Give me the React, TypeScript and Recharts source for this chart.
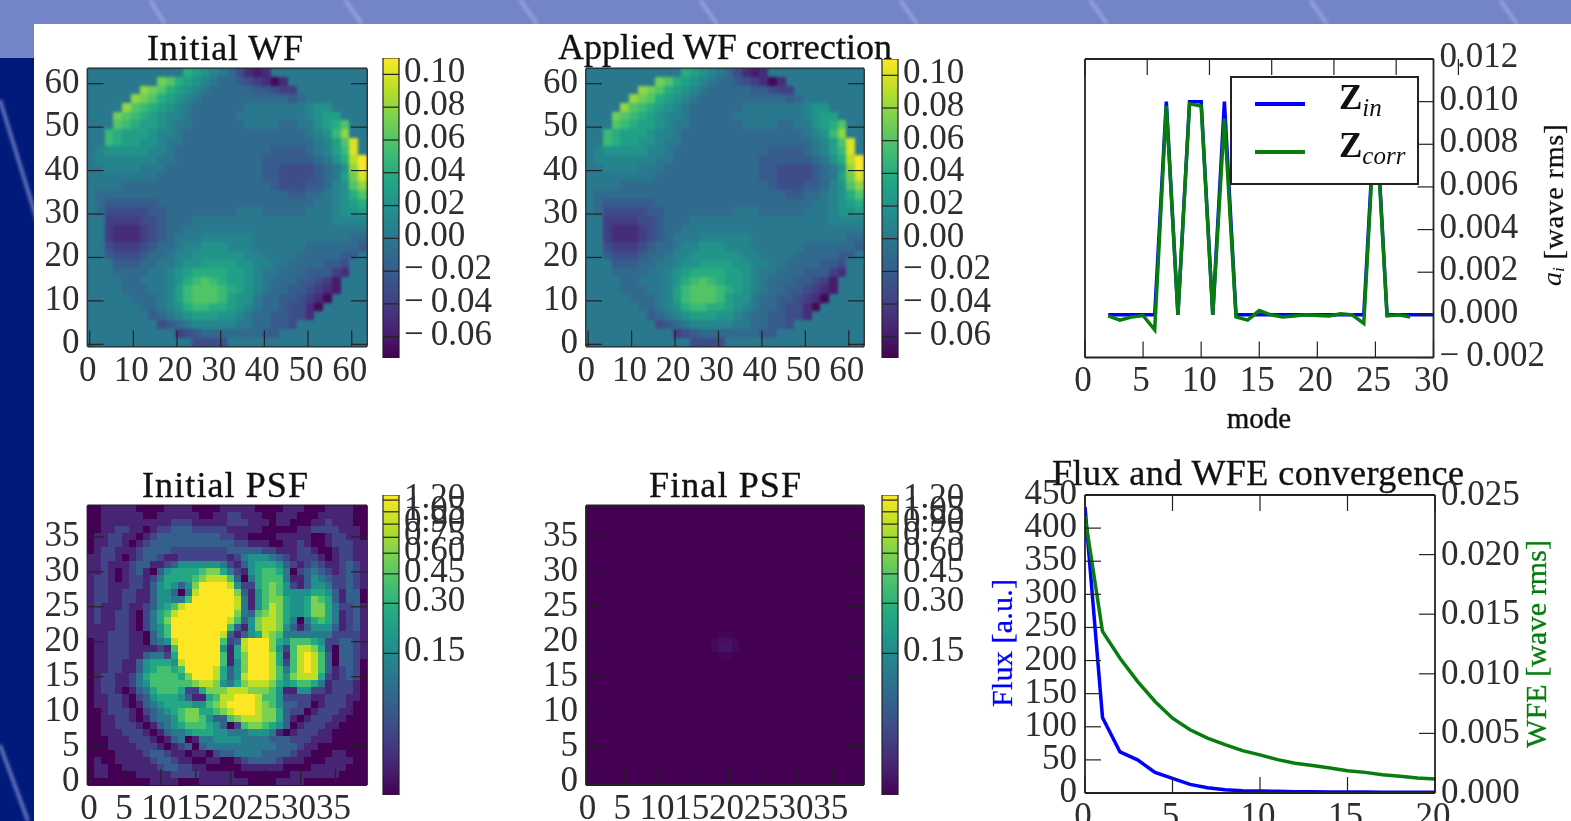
import {
  Bar,
  ComposedChart,
  Legend,
  Line,
  LineChart,
  ReferenceArea,
  Scatter,
  ScatterChart,
  XAxis,
  YAxis,
} from "recharts";

const W = 1571;
const H = 821;
const FONT = "'Liberation Serif', serif";
const INK = "#222";

// viridis stops, low to high
const viridis = ["#440154", "#482475", "#414487", "#355f8d", "#2a788e", "#21918c", "#22a884", "#44bf70", "#7ad151", "#bddf26", "#fde725"];

// wavefront, 0.01 wave steps, read on a 2 pixel grid, top row first
const wfRows = [
  [0,0,0,0,0,0,0,0,0,0,0,4,3,2,1,0,-1,-3,-5,-6,-5,0,0,0,0,0,0,0,0,0,0,0],
  [0,0,0,0,0,0,0,0,7,6,4,3,2,1,0,-1,-1,-2,-3,-4,-5,-7,-5,0,0,0,0,0,0,0,0,0],
  [0,0,0,0,0,0,8,7,6,4,3,2,1,0,-1,-1,-1,-1,-1,-2,-2,-3,-4,-4,0,0,0,0,0,0,0,0],
  [0,0,0,0,0,8,7,6,4,3,2,1,0,-1,-1,-1,-1,-1,-1,-1,-1,-1,-1,-2,-1,0,0,0,0,0,0,0],
  [0,0,0,0,8,6,5,4,3,2,1,0,-1,-1,-1,-1,-1,-1,0,0,0,0,0,0,0,1,2,2,0,0,0,0],
  [0,0,0,7,6,5,4,3,2,1,1,0,-1,-1,-1,-1,-1,0,0,0,0,0,0,0,0,1,2,3,3,0,0,0],
  [0,0,0,6,5,4,3,3,2,1,0,0,-1,-1,-1,-1,-1,-1,0,0,0,0,-1,-1,0,0,2,3,4,6,0,0],
  [0,0,5,4,3,3,3,2,1,1,0,-1,-1,-1,-1,-1,-1,-1,-1,-1,-1,-1,-1,-1,-1,0,1,2,5,8,0,0],
  [0,0,5,4,3,3,2,2,1,0,0,-1,-1,-1,-1,-1,-1,-1,-1,-1,-1,-1,-1,-1,-1,-1,0,1,3,6,10,0],
  [0,1,2,2,2,2,2,1,1,0,-1,-1,-1,-1,-1,-1,-1,-1,-1,-1,-1,-2,-2,-2,-2,-1,0,1,3,5,10,0],
  [0,1,1,1,1,1,1,1,0,0,-1,-1,-1,-1,-1,-1,-1,-1,-1,-1,-2,-2,-2,-2,-2,-2,-1,0,2,4,9,11],
  [0,0,1,1,1,1,0,0,0,-1,-1,-1,-1,-1,-1,-1,-1,-1,-1,-1,-2,-2,-3,-3,-3,-3,-2,-1,0,2,8,11],
  [0,0,0,0,0,0,0,0,-1,-1,-1,-1,-1,-1,-1,-1,-1,-1,-1,-1,-2,-2,-3,-3,-3,-3,-2,-1,0,3,7,10],
  [0,0,0,0,-1,-1,-1,-1,-1,-1,-1,-1,-1,-1,-1,-1,-1,-1,-1,-1,-1,-2,-3,-3,-3,-2,-2,-1,1,2,6,8],
  [0,-1,-1,-1,-1,-1,-1,-1,-1,-1,-1,-1,-1,-1,-1,-1,-1,-1,-1,-1,-1,-1,-1,-2,-2,-1,-1,0,1,2,4,6],
  [0,-1,-2,-2,-2,-2,-2,-2,-1,-1,-1,-1,-1,-1,-1,-1,-1,-1,-1,-1,-1,-1,-1,-1,-1,-1,0,0,1,2,3,4],
  [0,-1,-3,-3,-3,-3,-3,-2,-2,-1,-1,-1,-1,-1,-1,-1,-1,0,0,0,-1,-1,-1,-1,-1,0,0,0,1,2,2,3],
  [0,0,-4,-4,-4,-4,-3,-3,-2,-1,-1,-1,0,0,0,0,0,0,0,0,0,0,0,0,0,0,0,0,1,1,1,1],
  [0,0,-4,-5,-5,-5,-4,-3,-2,-1,-1,0,0,0,0,0,0,0,0,0,0,0,0,0,0,0,0,0,0,0,0,0],
  [0,0,-4,-5,-5,-5,-4,-3,-2,-1,0,0,0,1,1,1,1,1,1,0,0,0,0,0,0,0,0,0,0,0,-1,-1],
  [0,0,-3,-4,-4,-4,-3,-2,-1,-1,0,1,1,2,2,2,1,1,1,0,0,0,0,0,0,-1,-1,-1,-1,-1,-1,-2],
  [0,0,-2,-3,-3,-3,-2,-1,-1,0,1,1,2,2,2,2,2,2,1,1,0,0,0,0,-1,-1,-1,-1,-1,-2,-2,0],
  [0,0,0,-2,-2,-2,-1,-1,0,0,1,2,2,3,3,3,3,2,2,1,1,0,0,-1,-1,-1,-1,-2,-2,-3,0,0],
  [0,0,0,-1,-1,-1,-1,0,0,1,2,3,4,4,4,4,3,3,2,1,0,0,-1,-1,-1,-2,-2,-2,-4,-5,0,0],
  [0,0,0,0,-1,-1,0,0,0,1,2,4,5,6,5,4,3,3,2,1,0,-1,-1,-1,-2,-2,-3,-4,-6,0,0,0],
  [0,0,0,0,-1,-1,-1,0,0,1,3,5,6,6,6,5,4,3,2,1,0,-1,-1,-2,-2,-3,-4,-5,-6,0,0,0],
  [0,0,0,0,0,-1,-1,-1,0,1,3,5,6,6,6,5,3,2,2,0,-1,-1,-2,-2,-3,-4,-5,-7,0,0,0,0],
  [0,0,0,0,0,0,-1,-1,0,1,2,4,5,5,4,4,3,2,1,0,-1,-1,-2,-3,-3,-5,-7,0,0,0,0,0],
  [0,0,0,0,0,0,0,-2,-1,0,1,2,3,3,3,2,2,1,0,-1,-1,-2,-2,-3,-3,-5,0,0,0,0,0,0],
  [0,0,0,0,0,0,0,0,-3,-2,-1,0,1,1,1,1,1,0,0,-1,-1,-2,-2,-3,0,0,0,0,0,0,0,0],
  [0,0,0,0,0,0,0,0,0,0,-4,-3,-2,-1,-1,-1,-1,-1,-1,-1,-2,-2,0,0,0,0,0,0,0,0,0,0],
  [0,0,0,0,0,0,0,0,0,0,0,0,-3,-3,-3,-3,0,0,0,0,0,0,0,0,0,0,0,0,0,0,0,0],
];

// initial PSF, colour bar level 0-10 per pixel, top row first
const psfRows = [
  [0,0,1,1,1,1,1,0,0,0,0,1,1,1,1,0,0,0,0,1,1,1,1,1,0,0,0,0,1,1,1,0,0,0,1,1,1,1,0,0],
  [0,0,1,1,1,1,1,1,0,0,1,1,1,1,1,1,0,0,1,1,2,2,1,1,1,0,0,1,1,1,0,0,0,1,1,1,1,1,0,0],
  [0,0,1,1,1,1,1,1,1,1,1,1,2,2,2,1,1,1,1,1,2,2,2,1,1,1,0,1,1,0,0,0,1,1,2,1,1,1,0,0],
  [0,0,1,1,2,2,1,1,0,1,2,2,3,3,3,2,2,2,2,2,1,1,1,1,1,0,0,0,0,0,1,1,2,2,2,2,1,1,1,0],
  [0,1,1,2,2,1,1,0,1,2,3,3,3,3,3,3,3,3,3,2,2,1,1,0,0,0,0,1,1,1,1,1,0,0,1,2,2,1,1,0],
  [0,1,1,2,2,1,0,1,2,3,3,3,3,3,3,3,3,3,3,3,3,2,2,1,1,1,0,0,1,1,2,1,0,0,1,2,2,2,1,1],
  [0,1,2,2,1,1,1,2,3,3,3,3,2,2,2,2,2,2,2,2,3,3,3,3,3,2,2,1,1,1,2,2,1,0,0,1,2,2,1,1],
  [1,1,2,2,1,0,1,2,3,3,2,1,1,2,2,2,2,2,2,2,1,2,4,5,5,5,4,3,2,1,2,2,2,1,0,1,2,2,1,1],
  [1,1,2,1,1,1,2,3,3,1,1,2,3,5,5,5,5,5,5,4,2,1,3,5,6,6,6,5,3,2,1,2,3,2,1,1,2,3,2,1],
  [1,1,2,1,0,1,2,3,1,0,3,5,6,6,6,6,7,8,8,6,4,2,1,5,6,7,7,6,4,0,2,3,4,3,2,1,2,3,2,1],
  [1,2,2,1,0,1,2,2,1,2,4,6,6,6,6,7,8,9,9,9,7,3,0,4,6,7,7,7,4,1,1,3,5,4,3,2,2,3,2,1],
  [1,2,2,1,1,1,2,2,1,3,5,6,5,3,5,8,10,10,10,10,9,5,2,2,6,7,8,7,5,2,1,3,5,5,4,2,2,3,2,1],
  [1,2,2,1,1,2,2,1,1,3,5,5,3,0,4,9,10,10,10,10,10,8,3,1,5,7,8,7,5,5,5,5,6,6,5,3,1,3,3,0],
  [1,2,2,1,1,2,2,1,1,3,5,5,4,4,7,10,10,10,10,10,10,9,4,1,5,7,8,8,6,5,5,6,8,7,6,3,1,3,3,0],
  [1,2,1,1,1,2,1,1,2,3,5,6,7,9,10,10,10,10,10,10,10,9,4,1,5,7,9,8,6,5,5,6,8,8,6,4,2,2,3,1],
  [1,2,1,1,2,2,1,0,2,4,6,7,9,10,10,10,10,10,10,10,10,8,4,3,7,8,9,8,6,5,5,6,8,8,6,4,1,2,3,1],
  [1,2,1,1,2,2,1,0,2,4,6,8,10,10,10,10,10,10,10,10,9,7,3,5,8,9,9,8,6,4,0,4,6,7,6,4,1,2,3,1],
  [1,1,1,1,2,2,1,0,2,4,5,7,10,10,10,10,10,10,10,10,7,3,1,5,8,9,9,8,5,3,1,3,5,5,5,3,1,2,3,1],
  [1,1,1,2,2,2,1,1,0,3,5,7,10,10,10,10,10,10,10,9,3,1,3,5,6,9,8,7,4,4,4,4,4,4,4,2,2,2,2,1],
  [0,1,1,2,2,2,1,1,0,3,4,5,9,10,10,10,10,10,10,7,2,3,9,10,10,10,8,6,5,7,7,7,6,5,2,2,3,3,2,1],
  [0,1,1,2,2,2,1,1,1,1,2,1,7,10,10,10,10,10,10,5,1,6,9,10,10,10,8,5,2,7,9,9,8,6,2,0,3,3,2,1],
  [0,1,1,2,2,2,1,1,3,4,4,2,6,10,10,10,10,10,10,7,1,6,8,10,10,10,9,6,1,7,9,10,9,7,3,0,3,3,2,1],
  [0,1,1,2,2,1,1,3,5,6,6,6,5,9,10,10,10,10,10,7,1,5,8,10,10,10,9,6,2,7,9,10,9,7,3,0,3,3,2,0],
  [0,1,1,2,2,1,1,3,5,6,7,7,6,7,10,10,10,10,9,6,3,5,8,10,10,10,9,7,4,7,9,10,9,7,3,1,2,3,2,0],
  [0,1,2,2,1,1,2,4,6,7,7,7,7,6,8,10,10,10,9,6,3,5,9,10,10,10,9,7,5,8,9,9,9,6,2,1,2,3,2,0],
  [0,1,2,2,1,1,2,4,5,7,7,7,7,7,7,8,9,9,8,5,4,6,8,9,9,9,8,6,5,6,7,7,6,4,1,2,2,2,1,0],
  [0,1,2,2,1,0,1,3,4,6,7,7,7,6,2,2,6,8,8,8,9,9,9,8,8,8,7,5,1,1,5,5,2,2,1,2,2,2,1,0],
  [0,1,1,2,2,1,0,2,3,5,6,6,6,5,3,1,1,6,7,9,9,10,10,10,9,7,7,5,2,2,2,2,1,1,2,2,2,1,1,0],
  [0,1,1,2,2,1,0,1,3,4,5,6,6,6,6,5,5,7,8,9,10,10,10,10,9,8,7,5,3,3,2,2,0,1,2,2,2,1,0,0],
  [0,0,1,2,2,2,1,0,2,3,4,5,6,7,8,8,6,6,7,8,9,10,10,10,9,8,8,6,3,2,2,0,1,2,2,2,1,1,0,0],
  [0,0,1,1,2,2,1,0,1,3,4,4,5,7,8,8,7,5,3,3,7,8,9,9,9,8,8,6,3,1,0,1,2,2,2,1,1,0,0,0],
  [0,0,1,1,2,2,2,1,0,1,3,4,5,6,7,7,7,6,5,3,0,2,7,8,8,7,6,5,3,0,1,2,2,2,1,1,0,0,0,0],
  [0,0,1,1,1,2,2,2,1,0,1,3,4,4,5,6,6,6,5,5,4,4,4,5,5,5,4,1,0,1,2,2,2,1,1,0,0,0,0,0],
  [0,0,0,1,1,1,2,2,2,1,0,1,3,4,0,1,4,4,5,5,5,5,4,4,4,4,3,3,3,2,2,2,1,1,1,0,0,0,0,0],
  [0,0,0,1,1,1,1,2,2,2,1,0,1,2,3,0,3,4,4,4,4,4,4,4,4,4,4,3,3,3,2,1,1,0,0,0,0,0,0,0],
  [0,0,0,0,1,1,1,1,2,3,3,2,1,1,0,1,1,0,2,3,3,4,4,4,4,3,3,3,3,2,1,1,0,0,0,1,1,0,0,0],
  [0,1,0,0,1,1,1,1,1,2,3,3,2,1,1,0,0,1,1,0,0,1,2,3,3,3,3,2,1,1,1,0,0,0,1,1,1,1,0,0],
  [0,1,1,0,0,1,1,1,1,1,2,3,3,2,2,1,1,0,0,0,0,0,1,1,1,1,1,1,0,0,0,0,1,1,1,1,1,0,0,0],
  [0,1,1,0,0,0,0,1,1,1,1,1,2,2,2,2,1,1,1,1,1,0,0,0,0,0,0,0,0,1,1,1,1,1,1,1,0,0,0,0],
  [0,0,0,0,0,0,0,0,0,1,1,1,1,0,0,0,1,1,1,1,1,1,1,0,0,0,0,1,1,1,1,0,0,0,0,0,0,0,0,0],
];

// final PSF is flat except a faint spot
const spotX = [18, 19, 20, 21, 18, 19, 20, 21, 19, 20, 19, 20];
const spotY = [20, 20, 20, 20, 19, 19, 19, 19, 21, 21, 18, 18];
const spotLevel = [0.2, 0.4, 0.4, 0.2, 0.2, 0.5, 0.5, 0.2, 0.15, 0.15, 0.15, 0.15];

const wfTicks = [0, 10, 20, 30, 40, 50, 60];
const psfTicks = [0, 5, 10, 15, 20, 25, 30, 35];
const wfBarTicks = [0.1, 0.08, 0.06, 0.04, 0.02, 0, -0.02, -0.04, -0.06];
const psfBarPos = [0.983, 0.944, 0.903, 0.859, 0.806, 0.737, 0.639, 0.472];
const psfBarLabels = ["1.20", "1.05", "0.90", "0.75", "0.60", "0.45", "0.30", "0.15"];

// zernike modes
const modes = [2, 3, 4, 5, 6, 7, 8, 9, 10, 11, 12, 13, 14, 15, 16, 17, 18, 19, 20, 21, 22, 23, 24, 25, 26, 27, 28, 29, 30];
const zIn = [0, 0, 0, 0, 0, 0.01, 0, 0.01, 0.01, 0, 0.01, 0, 0, 0, 0, 0, 0, 0, 0, 0, 0, 0, 0, 0.01, 0, 0, 0, 0, 0];
const zCorr = [-0.00005, -0.00025, -0.0001, -0.00003, -0.0007, 0.0098, 0, 0.0099, 0.0098, 0, 0.0092, -0.0001, -0.00025, 0.0002, 0, -0.0001, -0.00005, 0, -0.00003, -0.00005, 0.00005, 0, -0.0004, 0.0097, -0.00005, 0, -0.0001, null, null];
const modeAxisTicks = [0, 5, 10, 15, 20, 25, 30];
const coefTicks = [-0.002, 0, 0.002, 0.004, 0.006, 0.008, 0.01, 0.012];

// convergence
const iterations = [0, 1, 2, 3, 4, 5, 6, 7, 8, 9, 10, 11, 12, 13, 14, 15, 16, 17, 18, 19, 20];
const flux = [432, 114, 62, 50, 31, 22, 13, 8, 5, 3.5, 3, 2.5, 2, 2, 1.5, 1.5, 1.5, 1, 1, 1, 1];
const wfe = [0.0232, 0.01355, 0.0113, 0.00936, 0.00768, 0.00628, 0.0053, 0.0046, 0.00405, 0.00355, 0.0032, 0.0028, 0.0025, 0.0023, 0.0021, 0.00187, 0.00173, 0.00154, 0.0014, 0.00126, 0.00117];
const iterTicks = [0, 5, 10, 15, 20];
const fluxTicks = [0, 50, 100, 150, 200, 250, 300, 350, 400, 450];
const wfeTicks = [0, 0.005, 0.01, 0.015, 0.02, 0.025];

const colour = (t: number) => {
  const p = Math.max(0, Math.min(1, t)) * 10;
  const i = Math.min(9, Math.floor(p));
  const a = viridis[i];
  const b = viridis[i + 1];
  const mix = (s: number) => {
    const u = parseInt(a.slice(s, s + 2), 16);
    const v = parseInt(b.slice(s, s + 2), 16);
    return Math.round(u + (v - u) * (p - i));
  };
  return `rgb(${mix(1)},${mix(3)},${mix(5)})`;
};

const WF_MIN = -0.073;
const WF_MAX = 0.11;

const wfCells = wfRows.flatMap((row, r) =>
  row.map((v, c) => ({ x: c * 2 + 0.5, y: 62.5 - r * 2, fill: colour((v / 100 - WF_MIN) / (WF_MAX - WF_MIN)) }))
);
const psfCells = psfRows.flatMap((row, r) =>
  row.map((v, c) => ({ x: c, y: 39 - r, fill: colour(v / 10) }))
);
const spotCells = spotX.map((x, i) => ({ x, y: spotY[i], fill: colour(spotLevel[i] / 10) }));

const modeData = modes.map((mode, i) => ({ mode, zIn: zIn[i], zCorr: zCorr[i] }));
const iterData = iterations.map((iter, i) => ({ iter, flux: flux[i], wfe: wfe[i] }));

type Rect = { l: number; r: number; t: number; b: number };
// each axis takes 1px outside the plot, an axis of size 0 is not drawn
const marginOf = (p: Rect) => ({ left: p.l - 1, right: W - p.r - 1, top: p.t - 1, bottom: H - p.b - 1 });

// the wide minus of the original, a minus and a thin space here
const fmt = (v: number, d: number) => v.toFixed(d).replace("-", "\u2212\u2009");

const textProps = { fontFamily: FONT, fontSize: 35, fill: "#2e2e2e" };

const bottomTick = (len: number, drop: number) => (p: any) => (
  <g>
    <line x1={p.x} x2={p.x} y1={p.y} y2={p.y - len} stroke={INK} strokeWidth={1.2} />
    <text {...textProps} x={p.x - 2} y={p.y + drop} textAnchor="middle">{p.payload.value}</text>
  </g>
);
const topTick = (len: number) => (p: any) => (
  <line x1={p.x} x2={p.x} y1={p.y} y2={p.y + len} stroke={INK} strokeWidth={1.2} />
);
const leftTick = (len: number, showText: boolean) => (p: any) => (
  <g>
    <line x1={p.x} x2={p.x + len} y1={p.y} y2={p.y} stroke={INK} strokeWidth={1.2} />
    {showText && <text {...textProps} x={p.x - 8} y={p.y + 9} textAnchor="end">{p.payload.value}</text>}
  </g>
);
const rightTick = (len: number, digits: number | null, drop = 10) => (p: any) => (
  <g>
    <line x1={p.x} x2={p.x - len} y1={p.y} y2={p.y} stroke={INK} strokeWidth={1.2} />
    {digits !== null && (
      <text {...textProps} x={p.x + 6} y={p.y + drop}>{fmt(p.payload.value, digits)}</text>
    )}
  </g>
);

const axisBase = {
  type: "number" as const,
  allowDataOverflow: true,
  interval: 0 as const,
  tickSize: 0,
  tickMargin: 0,
  tickLine: false,
  axisLine: { stroke: INK, strokeWidth: 1.8 },
};

// all four spines with inward ticks, matplotlib style
const heatAxes = (domain: number[], ticks: number[]) => [
  <XAxis key="b" {...axisBase} xAxisId="b" dataKey="x" height={1} domain={domain} ticks={ticks} tick={bottomTick(16, 34)} />,
  <XAxis key="t" {...axisBase} xAxisId="t" orientation="top" height={1} domain={domain} ticks={ticks} tick={topTick(16)} />,
  <YAxis key="l" {...axisBase} yAxisId="l" dataKey="y" width={1} domain={domain} ticks={ticks} tick={leftTick(16, true)} />,
  <YAxis key="r" {...axisBase} yAxisId="r" orientation="right" width={1} domain={domain} ticks={ticks} tick={rightTick(16, null)} />,
];

const cellShape = (size: number) => (p: any) => (
  <rect x={p.cx - size / 2} y={p.cy - size / 2} width={size} height={size} fill={p.payload.fill} shapeRendering="crispEdges" />
);

const Title = ({ x, y, len, children }: any) => (
  <text x={x} y={y} textAnchor="middle" fontFamily={FONT} fontSize={36} fill="#111" stroke="#111" strokeWidth={0.35} textLength={len} lengthAdjust="spacing">
    {children}
  </text>
);

const Vertical = ({ x, y, len, fill, size = 30, children }: any) => (
  <text
    transform={`rotate(-90 ${x} ${y})`}
    x={x}
    y={y}
    textAnchor="middle"
    fontFamily={FONT}
    fontSize={size}
    fill={fill}
    stroke={fill}
    strokeWidth={0.3}
    textLength={len}
    lengthAdjust="spacing"
  >
    {children}
  </text>
);

const layer: React.CSSProperties = { position: "absolute", left: 0, top: 0 };

const HeatPanel = ({ rect, cells, domain, ticks, size, blur, title }: any) => (
  <div style={layer}>
    <ScatterChart width={W} height={H} margin={marginOf(rect)}>
      <ReferenceArea xAxisId="b" yAxisId="l" x1={domain[0]} x2={domain[1]} y1={domain[0]} y2={domain[1]} fill={domain[1] > 50 ? "#2a788e" : viridis[0]} fillOpacity={1} stroke="none" />
      <Scatter
        data={cells}
        xAxisId="b"
        yAxisId="l"
        shape={cellShape(size)}
        isAnimationActive={false}
        className={blur ? "wf-heat" : undefined}
      />
      {heatAxes(domain, ticks)}
      {title}
    </ScatterChart>
  </div>
);

const ColourBar = ({ rect, domain, ticks, tickLabel }: any) => (
  <div style={layer}>
    <ComposedChart width={W} height={H} margin={{ left: rect.l, right: W - rect.r - 1, top: rect.t, bottom: H - rect.b }} data={[{ name: "bar", range: domain }]} barCategoryGap={0}>
      <defs>
        <linearGradient id="viridisBar" x1="0" y1="1" x2="0" y2="0">
          {viridis.map((c, i) => (
            <stop key={c} offset={i / 10} stopColor={c} />
          ))}
        </linearGradient>
      </defs>
      <Bar dataKey="range" fill="url(#viridisBar)" stroke={INK} strokeWidth={1.2} isAnimationActive={false} />
      <XAxis dataKey="name" hide />
      <YAxis
        {...axisBase}
        orientation="right"
        width={1}
        axisLine={false}
        domain={domain}
        ticks={ticks}
        tick={(p: any) => (
          <g>
            <line x1={rect.l} x2={rect.r} y1={p.y} y2={p.y} stroke={INK} strokeWidth={1.2} />
            <text {...textProps} x={rect.r + 5} y={p.y + 8}>{tickLabel(p.payload.value)}</text>
          </g>
        )}
      />
    </ComposedChart>
  </div>
);

const LegendBox = ({ payload }: any) => (
  <div style={{ width: 185, height: 105, background: "#fff", border: `2px solid ${INK}`, position: "relative", fontFamily: FONT }}>
    {(payload || []).map((entry: any, i: number) => {
      const [main, sub] = String(entry.value).split("_");
      return (
        <div key={entry.value} style={{ position: "absolute", left: 0, top: i * 48 }}>
          <div style={{ position: "absolute", left: 23, top: 24, width: 50, height: 4, background: entry.color }} />
          <div style={{ position: "absolute", left: 107, top: 0, fontSize: 35, fontWeight: 700, color: "#111", whiteSpace: "nowrap" }}>
            {main}
            <span style={{ fontSize: 25, fontWeight: 400, fontStyle: "italic", position: "relative", top: 7 }}>{sub}</span>
          </div>
        </div>
      );
    })}
  </div>
);

const wf1: Rect = { l: 87.5, r: 367, t: 68.5, b: 346.5 };
const wf2: Rect = { l: 586, r: 864, t: 68.5, b: 346.5 };
const psf1: Rect = { l: 87.5, r: 367, t: 505.5, b: 785 };
const psf2: Rect = { l: 586, r: 864, t: 505.5, b: 785 };
const modesRect: Rect = { l: 1085, r: 1433.5, t: 59, b: 357.5 };
const convRect: Rect = { l: 1085, r: 1435, t: 495, b: 793 };

const WF_DOMAIN = [-0.5, 63.5];
const PSF_DOMAIN = [-0.5, 39.5];

const streaks = [
  [150, 0, 165, 24], [345, 0, 362, 24], [520, 0, 537, 24], [700, 0, 717, 24], [900, 0, 917, 24],
  [1090, 0, 1107, 24], [1310, 0, 1327, 24], [1500, 0, 1517, 24], [0, 100, 40, 230], [0, 745, 28, 821],
];

export default function App() {
  return (
    <div style={{ position: "fixed", left: 0, top: 0, width: W, height: H, overflow: "hidden", background: "#001a7c" }}>
      <style>{`.wf-heat { filter: blur(1.7px); }`}</style>
      <div style={{ ...layer, width: W, height: 58, background: "#7484c9" }} />
      <svg width={W} height={H} style={layer}>
        {streaks.map(([x1, y1, x2, y2]) => (
          <line key={`${x1}-${y1}`} x1={x1} y1={y1} x2={x2} y2={y2} stroke="#a9b6e6" strokeWidth={4} opacity={0.55} style={{ filter: "blur(1.5px)" }} />
        ))}
      </svg>
      <div style={{ position: "absolute", left: 34, top: 24, width: W - 34, height: H - 24, background: "#fff" }} />
      <div style={{ ...layer, width: W, height: H, filter: "blur(0.7px)" }}>
        <HeatPanel rect={wf1} cells={wfCells} domain={WF_DOMAIN} ticks={wfTicks} size={9.3} blur title={<Title x={225} y={60} len={156}>Initial WF</Title>} />
        <ColourBar rect={{ l: 383, r: 399, t: 58, b: 358 }} domain={[WF_MIN, WF_MAX]} ticks={wfBarTicks} tickLabel={(v: number) => fmt(v, 2)} />
        <HeatPanel rect={wf2} cells={wfCells} domain={WF_DOMAIN} ticks={wfTicks} size={9.3} blur title={<Title x={725} y={59} len={334}>Applied WF correction</Title>} />
        <ColourBar rect={{ l: 882, r: 898, t: 59, b: 358 }} domain={[WF_MIN, WF_MAX]} ticks={wfBarTicks} tickLabel={(v: number) => fmt(v, 2)} />
        <HeatPanel rect={psf1} cells={psfCells} domain={PSF_DOMAIN} ticks={psfTicks} size={7.4} title={<Title x={225} y={497} len={166}>Initial PSF</Title>} />
        <ColourBar rect={{ l: 383, r: 399, t: 495, b: 795 }} domain={[0, 1]} ticks={psfBarPos} tickLabel={(v: number) => psfBarLabels[psfBarPos.indexOf(v)]} />
        <HeatPanel rect={psf2} cells={spotCells} domain={PSF_DOMAIN} ticks={psfTicks} size={7.4} title={<Title x={725} y={497} len={152}>Final PSF</Title>} />
        <ColourBar rect={{ l: 882, r: 898, t: 495, b: 795 }} domain={[0, 1]} ticks={psfBarPos} tickLabel={(v: number) => psfBarLabels[psfBarPos.indexOf(v)]} />

        <div style={layer}>
          <LineChart width={W} height={H} margin={marginOf(modesRect)} data={modeData}>
            <Line xAxisId="b" yAxisId="r" dataKey="zIn" name="Z_in" stroke="#0000ff" strokeWidth={3.5} dot={false} isAnimationActive={false} />
            <Line xAxisId="b" yAxisId="r" dataKey="zCorr" name="Z_corr" stroke="#067d0e" strokeWidth={3.5} dot={false} isAnimationActive={false} />
            <XAxis {...axisBase} xAxisId="b" dataKey="mode" height={1} domain={[0, 30]} ticks={modeAxisTicks} tick={bottomTick(16, 33)} />
            <XAxis {...axisBase} xAxisId="t" orientation="top" height={1} domain={[0, 30]} ticks={modeAxisTicks} tick={topTick(16)} />
            <YAxis {...axisBase} yAxisId="l" width={1} domain={[-0.002, 0.012]} ticks={[]} tick={false} />
            <YAxis {...axisBase} yAxisId="r" orientation="right" width={1} domain={[-0.002, 0.012]} ticks={coefTicks} tick={rightTick(16, 3, 8)} />
            <Legend
              layout="horizontal"
              verticalAlign="middle"
              align="center"
              itemSorter={null}
              content={LegendBox}
              wrapperStyle={{ position: "absolute", left: 1230, top: 76, width: 187, height: 107, margin: 0 }}
            />
            <text x={1259} y={428} textAnchor="middle" fontFamily={FONT} fontSize={29} fill="#111" stroke="#111" strokeWidth={0.4}>mode</text>
            <Vertical x={1563} y={192} len={135} fill="#111" size={28}>[wave rms]</Vertical>
            <text transform="rotate(-90 1561 286)" x={1561} y={286} fontFamily={FONT} fontSize={28} fontStyle="italic" fill="#111">
              a<tspan fontSize={17} dy={3}>i</tspan>
            </text>
          </LineChart>
        </div>

        <div style={layer}>
          <LineChart width={W} height={H} margin={marginOf(convRect)} data={iterData}>
            <Line xAxisId="b" yAxisId="l" dataKey="flux" stroke="#0000ff" strokeWidth={3.5} dot={false} isAnimationActive={false} />
            <Line xAxisId="b" yAxisId="r" dataKey="wfe" stroke="#067d0e" strokeWidth={3.5} dot={false} isAnimationActive={false} />
            <XAxis {...axisBase} xAxisId="b" dataKey="iter" height={1} domain={[0, 20]} ticks={iterTicks} tick={bottomTick(16, 34)} />
            <XAxis {...axisBase} xAxisId="t" orientation="top" height={1} domain={[0, 20]} ticks={iterTicks} tick={topTick(16)} />
            <YAxis {...axisBase} yAxisId="l" width={1} domain={[0, 450]} ticks={fluxTicks} tick={leftTick(16, true)} />
            <YAxis {...axisBase} yAxisId="r" orientation="right" width={1} domain={[0, 0.025]} ticks={wfeTicks} tick={rightTick(16, 3)} />
            <Title x={1258} y={485} len={412}>Flux and WFE convergence</Title>
            <Vertical x={1012} y={643} len={128} fill="#0000ff">Flux [a.u.]</Vertical>
            <Vertical x={1546} y={644} len={208} fill="#067d0e">WFE [wave rms]</Vertical>
          </LineChart>
        </div>
      </div>
    </div>
  );
}
